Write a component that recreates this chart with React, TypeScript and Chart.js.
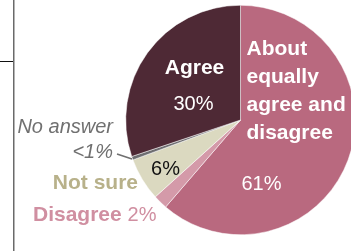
import React, { useEffect, useRef } from "react";
import { Chart, registerables } from "chart.js";

Chart.register(...registerables);

const categories = ["About equally agree and disagree", "Disagree", "Not sure", "No answer", "Agree"];
const values = [61, 2, 6, 0.5, 30];
const valueLabels = ["61%", "2%", "6%", "<1%", "30%"];
const colors = ["#b9697f", "#d49aa9", "#dbd9c0", "#6d6d70", "#4e2935"];

const FONT = '"Liberation Sans", Arial, sans-serif';

const labelPlugin = {
  id: "labels",
  afterDraw(chart: any) {
    const ctx = chart.ctx;
    const arc = chart.getDatasetMeta(0).data[0];
    const cx = arc.x;
    const cy = arc.y;
    ctx.save();
    // left rule lines
    ctx.strokeStyle = "#6a6a6a";
    ctx.lineWidth = 1.5;
    ctx.beginPath();
    ctx.moveTo(13.75, 0);
    ctx.lineTo(13.75, 251);
    ctx.stroke();
    ctx.strokeStyle = "#111";
    ctx.lineWidth = 1;
    ctx.beginPath();
    ctx.moveTo(0, 61.5);
    ctx.lineTo(13, 61.5);
    ctx.stroke();

    const bold = `bold 21px ${FONT}`;
    const reg = `20px ${FONT}`;
    ctx.textBaseline = "alphabetic";

    // Agree
    ctx.fillStyle = "#ffffff";
    ctx.textAlign = "center";
    ctx.font = bold;
    ctx.fillText("Agree", cx - 46, cy - 46);
    ctx.font = reg;
    ctx.fillText(valueLabels[4], cx - 47, cy - 10);

    // About equally
    ctx.textAlign = "left";
    ctx.font = bold;
    const lines = ["About", "equally", "agree and", "disagree"];
    lines.forEach((l, i) => ctx.fillText(l, cx + 6, cy - 65.5 + i * 28));

    // 61%
    ctx.textAlign = "center";
    ctx.font = reg;
    ctx.fillText(valueLabels[0], cx + 21, cy + 70);

    // 6%
    ctx.fillStyle = "#111111";
    ctx.fillText(valueLabels[2], cx - 75, cy + 55);

    // Not sure
    ctx.fillStyle = "#b8b18a";
    ctx.textAlign = "right";
    ctx.font = bold;
    ctx.fillText("Not sure", 138, cy + 69);

    // Disagree 2%
    ctx.fillStyle = "#d08fa1";
    ctx.textAlign = "left";
    ctx.font = bold;
    ctx.fillText("Disagree", 33, cy + 101);
    const w = ctx.measureText("Disagree ").width;
    ctx.font = reg;
    ctx.fillText(valueLabels[1], 33 + w, cy + 101);

    // No answer
    ctx.fillStyle = "#707070";
    ctx.textAlign = "right";
    ctx.font = `italic 20px ${FONT}`;
    ctx.fillText("No answer", 113, cy + 13);
    ctx.fillText(valueLabels[3], 113, cy + 38);
    ctx.strokeStyle = "#707070";
    ctx.lineWidth = 1.5;
    ctx.beginPath();
    ctx.moveTo(117, cy + 34);
    ctx.lineTo(132, cy + 39);
    ctx.stroke();
    ctx.restore();
  },
};

export default function App() {
  const ref = useRef<HTMLCanvasElement>(null);
  useEffect(() => {
    document.body.style.margin = "0";
    const chart = new Chart(ref.current!, {
      type: "pie",
      data: {
        labels: categories,
        datasets: [
          {
            data: values,
            backgroundColor: colors,
            borderColor: "#ffffff",
            borderWidth: 0.5,
          },
        ],
      },
      options: {
        animation: false,
        responsive: false,
        maintainAspectRatio: false,
        layout: { padding: { left: 125, right: 10, top: 5, bottom: 16 } },
        plugins: { legend: { display: false }, tooltip: { enabled: false } },
      },
      plugins: [labelPlugin],
    });
    return () => chart.destroy();
  }, []);
  return (
    <div style={{ width: 351, height: 251, overflow: "hidden", position: "relative" }}>
      <canvas ref={ref} width={366} height={251} style={{ display: "block" }} />
    </div>
  );
}
